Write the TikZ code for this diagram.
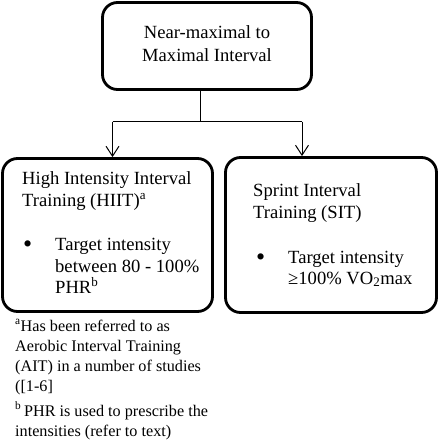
\documentclass[tikz,border=0pt]{standalone}
\usepackage{fontspec}
\setmainfont{Liberation Serif}
\usetikzlibrary{arrows.meta}
\begin{document}
\begin{tikzpicture}[x=1pt,y=-1pt,
  box/.style={draw,line width=2.8pt,rounded corners=15pt,inner sep=0pt},
  txt/.style={anchor=base west,inner sep=0pt,font=\fontsize{18.6}{20}\selectfont},
  ftxt/.style={anchor=base west,inner sep=0pt,font=\fontsize{16.2}{20}\selectfont},
  bul/.style={anchor=base west,inner sep=0pt,font=\fontsize{26}{20}\selectfont},
  conn/.style={line width=1pt},
  arr/.style={line width=1pt,-{Straight Barb[length=10pt,width=13pt,line width=1pt]}}]
\useasboundingbox (0,0) rectangle (440,440);
% boxes
\node[box,minimum width=209pt,minimum height=87pt] (top) at (207,46) {};
\node[box,minimum width=210pt,minimum height=153pt] (left) at (107.5,235) {};
\node[box,minimum width=211pt,minimum height=155pt] (right) at (331,235) {};
% top text
\node[txt,anchor=base] (t1) at (207,38) {Near-maximal to};
\node[txt,anchor=base] (t2) at (207,61) {Maximal Interval};
% left text
\node[txt] (l1) at (22,184) {High Intensity Interval};
\node[txt] (l2) at (22,206) {Training (HIIT)\textsuperscript{a}};
\node[bul] (lb) at (23,252) {\textbullet};
\node[txt] (l3) at (55,250) {Target intensity};
\node[txt] (l4) at (55,272) {between 80 - 100\%};
\node[txt] (l5) at (55,293) {PHR\textsuperscript{b}};
% right text
\node[txt] (r1) at (253,196) {Sprint Interval};
\node[txt] (r2) at (253,218) {Training (SIT)};
\node[bul] (rb) at (256,265) {\textbullet};
\node[txt] (r3) at (288,263) {Target intensity};
\node[txt] (r4) at (288,284) {≥100\% VO\textsubscript{2}max};
% footnotes
\node[ftxt] (f1) at (15,331) {\textsuperscript{a}Has been referred to as};
\node[ftxt] (f2) at (15,351) {Aerobic Interval Training};
\node[ftxt] (f3) at (15,371) {(AIT) in a number of studies};
\node[ftxt] (f4) at (15,391) {([1-6]};
\node[ftxt] (f5) at (15,416) {\textsuperscript{b}\,PHR is used to prescribe the};
\node[ftxt] (f6) at (15,436) {intensities (refer to text)};
% connectors
\coordinate (s) at (200.5,90);
\coordinate (jl) at (112.5,121.5);
\coordinate (jr) at (302,121.5);
\draw[conn] (s) -- (s |- jl);
\draw[conn] (jl) -- (jr);
\draw[arr] (jl) -- (jl |- left.north);
\draw[arr] (jr) -- (jr |- right.north);
\end{tikzpicture}
\end{document}
